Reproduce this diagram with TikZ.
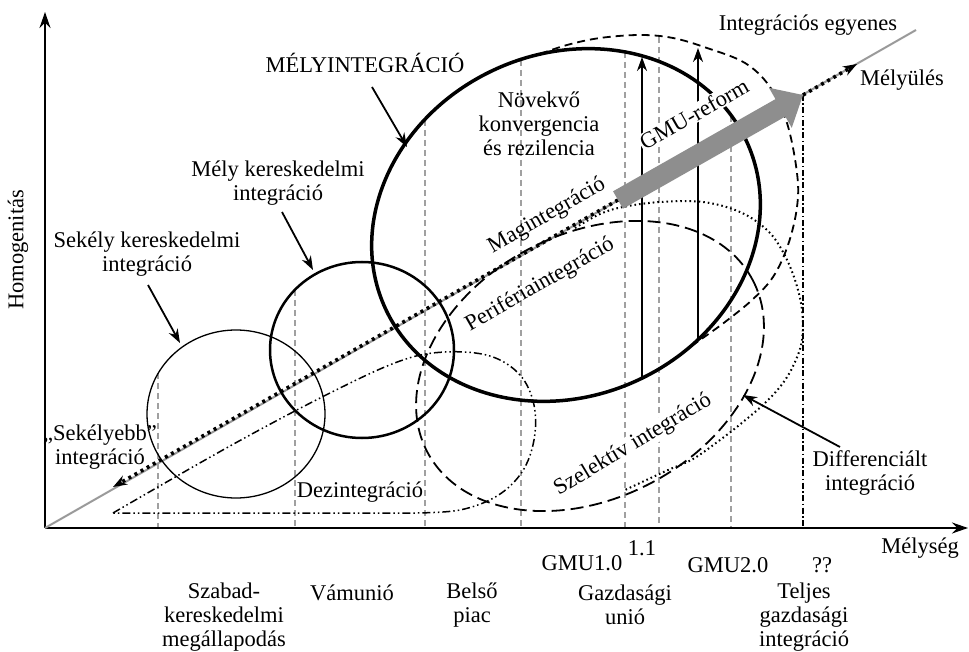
\documentclass[tikz,border=0pt]{standalone}
\usepackage{fontspec}
\setmainfont{Liberation Serif}
\usetikzlibrary{arrows.meta,calc}
\definecolor{gridgray}{HTML}{A0A0A0}
\definecolor{linegray}{HTML}{9A9A9A}
\definecolor{gmugray}{HTML}{8E8E8E}
\begin{document}
\begin{tikzpicture}[x=1pt,y=-1pt,
 lbl/.style={font=\fontsize{22.5}{24}\selectfont, align=center, inner sep=0pt},
 wlbl/.style={lbl, fill=white, inner sep=1pt},
 vgrid/.style={draw=gridgray, line width=1.5pt, dash pattern=on 6pt off 4pt},
 axisline/.style={line width=1.8pt, -{Stealth[length=16pt,width=11pt]}},
 lblarrow/.style={line width=1.8pt, -{Stealth[length=14pt,width=10pt]}},
 dotline/.style={line width=3.6pt, dash pattern=on 3pt off 4pt},
 thickell/.style={line width=3.5pt},
 midcirc/.style={line width=2.5pt},
 thincirc/.style={line width=1.3pt},
 longdash/.style={line width=1.8pt, dash pattern=on 13pt off 6pt},
 meddash/.style={line width=1.8pt, dash pattern=on 8pt off 5pt},
 dots/.style={line width=2pt, dash pattern=on 1.6pt off 3pt},
 ddd/.style={line width=1.5pt, dash pattern=on 8pt off 3pt on 1.5pt off 3pt on 1.5pt off 3pt},
 dashdot/.style={line width=1.5pt, dash pattern=on 6pt off 2.5pt on 1.5pt off 2.5pt},
]
\fill[white] (0,0) rectangle (969,652);
\useasboundingbox (0,0) rectangle (969,652);

% key coordinates
\coordinate (O) at (45,528);
\coordinate (Ytop) at (45,12);
\coordinate (Xend) at (968,528);
\coordinate (Iend) at (916,30);
\coordinate (gS) at (618,200);
\coordinate (gE) at (803,95);
\coordinate (sh) at (113,487);
\coordinate (deep) at (857,64);
\coordinate (qqb) at (803,528);

% gray dashed verticals
\foreach \x/\t in {158/373, 295/290, 425/120, 521/60, 625/52, 659/37, 731/116}
  \draw[vgrid] (\x,\t) -- (\x,528);
\draw[dashdot] (gE) -- (qqb);

% axes
\draw[axisline] (O) -- (Ytop);
\draw[axisline] (O) -- (Xend);

% integration line
\draw[linegray, line width=2pt] (O) -- (Iend);

% circles and ellipses
\draw[thincirc] (236,414) ellipse [x radius=89, y radius=84];
\draw[midcirc] (362,350) ellipse [x radius=92, y radius=88];
\draw[thickell, rotate around={25:(566,225)}] (566,225) ellipse [x radius=199, y radius=171];
\draw[longdash, rotate around={28:(590,366)}] (590,366) ellipse [x radius=184, y radius=132];
\draw[meddash] plot[smooth, tension=0.6] coordinates {(540,54) (567,45) (600,38) (640,35) (673,38) (707,48) (745,63) (770,87) (787,123) (797,173) (797,207) (788,245) (773,277) (752,300) (725,322) (700,340) (687,349)};
\draw[dots] plot[smooth, tension=0.6] coordinates {(575,228) (600,214) (623,207) (660,202) (703,202) (740,212) (767,230) (783,252) (795,280) (802,310) (802,340) (795,362) (783,383) (765,403) (743,422) (720,440) (693,459) (668,470) (640,483) (625,490)};
\draw[ddd] plot[smooth, tension=0.6] coordinates {(113,513) (230,446) (330,393) (400,361) (445,352) (490,356) (520,375) (534,405) (534,440) (522,472) (497,496) (460,510) (415,513)} -- cycle;

% vertical arrows
\coordinate (v1b) at (642,378); \coordinate (v1t) at (642,57);
\coordinate (v2b) at (698,340); \coordinate (v2t) at (698,48);
\draw[lblarrow] (v1b) -- (v1t);
\draw[lblarrow] (v2b) -- (v2t);

% dotted integration path
\draw[dotline, -{Stealth[length=14pt,width=10pt]}] (gS) -- (sh);
\draw[dotline, -{Stealth[length=14pt,width=10pt]}] (gE) -- (deep);

% GMU reform label (over the vertical arrows) and arrow
\node[wlbl, rotate=29.7] (tgmur) at (694,114) {GMU-reform};
\coordinate (gB) at ($(gE)!26pt!(gS)$);
\draw[gmugray, line width=20pt] (gS) -- ($(gE)!24pt!(gS)$);
\fill[gmugray] ($(gB)!23pt!90:(gE)$) -- (gE) -- ($(gB)!23pt!-90:(gE)$) -- cycle;

% label arrows
\coordinate (a1s) at (372,87); \coordinate (a1e) at (407,147);
\coordinate (a2s) at (282,212); \coordinate (a2e) at (313,270);
\coordinate (a3s) at (148,285); \coordinate (a3e) at (180,343);
\coordinate (a4s) at (840,447); \coordinate (a4e) at (743,395);
\draw[lblarrow] (a1s) -- (a1e);
\draw[lblarrow] (a2s) -- (a2e);
\draw[lblarrow] (a3s) -- (a3e);
\draw[lblarrow] (a4s) -- (a4e);

% texts
\node[lbl] (tmely) at (365,63) {MÉLYINTEGRÁCIÓ};
\node[lbl] (tnov) at (539,124) {Növekvő\\konvergencia\\és rezilencia};
\node[lbl] (tmk) at (278,183) {Mély kereskedelmi\\integráció};
\node[lbl] (tsk) at (147,254) {Sekély kereskedelmi\\integráció};
\node[lbl] (tsky) at (100,447) {„Sekélyebb”\\integráció};
\node[lbl] (tdez) at (360,492) {Dezintegráció};
\node[lbl] (tszab) at (224,617) {Szabad-\\kereskedelmi\\megállapodás};
\node[lbl] (tvam) at (352,593) {Vámunió};
\node[lbl] (tbel) at (472,605) {Belső\\piac};
\node[lbl] (tgmu1) at (582,563) {GMU1.0};
\node[lbl] (t11) at (642,548) {1.1};
\node[lbl] (tgaz) at (625,605) {Gazdasági\\unió};
\node[lbl] (tgmu2) at (728,565) {GMU2.0};
\node[lbl] (tqq) at (822,565) {??};
\node[lbl] (ttel) at (804,617) {Teljes\\gazdasági\\integráció};
\node[lbl] (tmys) at (920,548) {Mélység};
\node[lbl, rotate=90] (thom) at (18,250) {Homogenitás};
\node[lbl] (tie) at (808,25) {Integrációs egyenes};
\node[lbl] (tmyu) at (902,80) {Mélyülés};
\node[lbl] (tdiff) at (870,473) {Differenciált\\integráció};
\node[lbl, rotate=29.7] (tmag) at (547,216) {Magintegráció};
\node[lbl, rotate=29.7] (tper) at (540,285) {Perifériaintegráció};
\node[wlbl, inner sep=0.5pt, rotate=31] (tszel) at (633,445) {Szelektív integráció};
\end{tikzpicture}
\end{document}
